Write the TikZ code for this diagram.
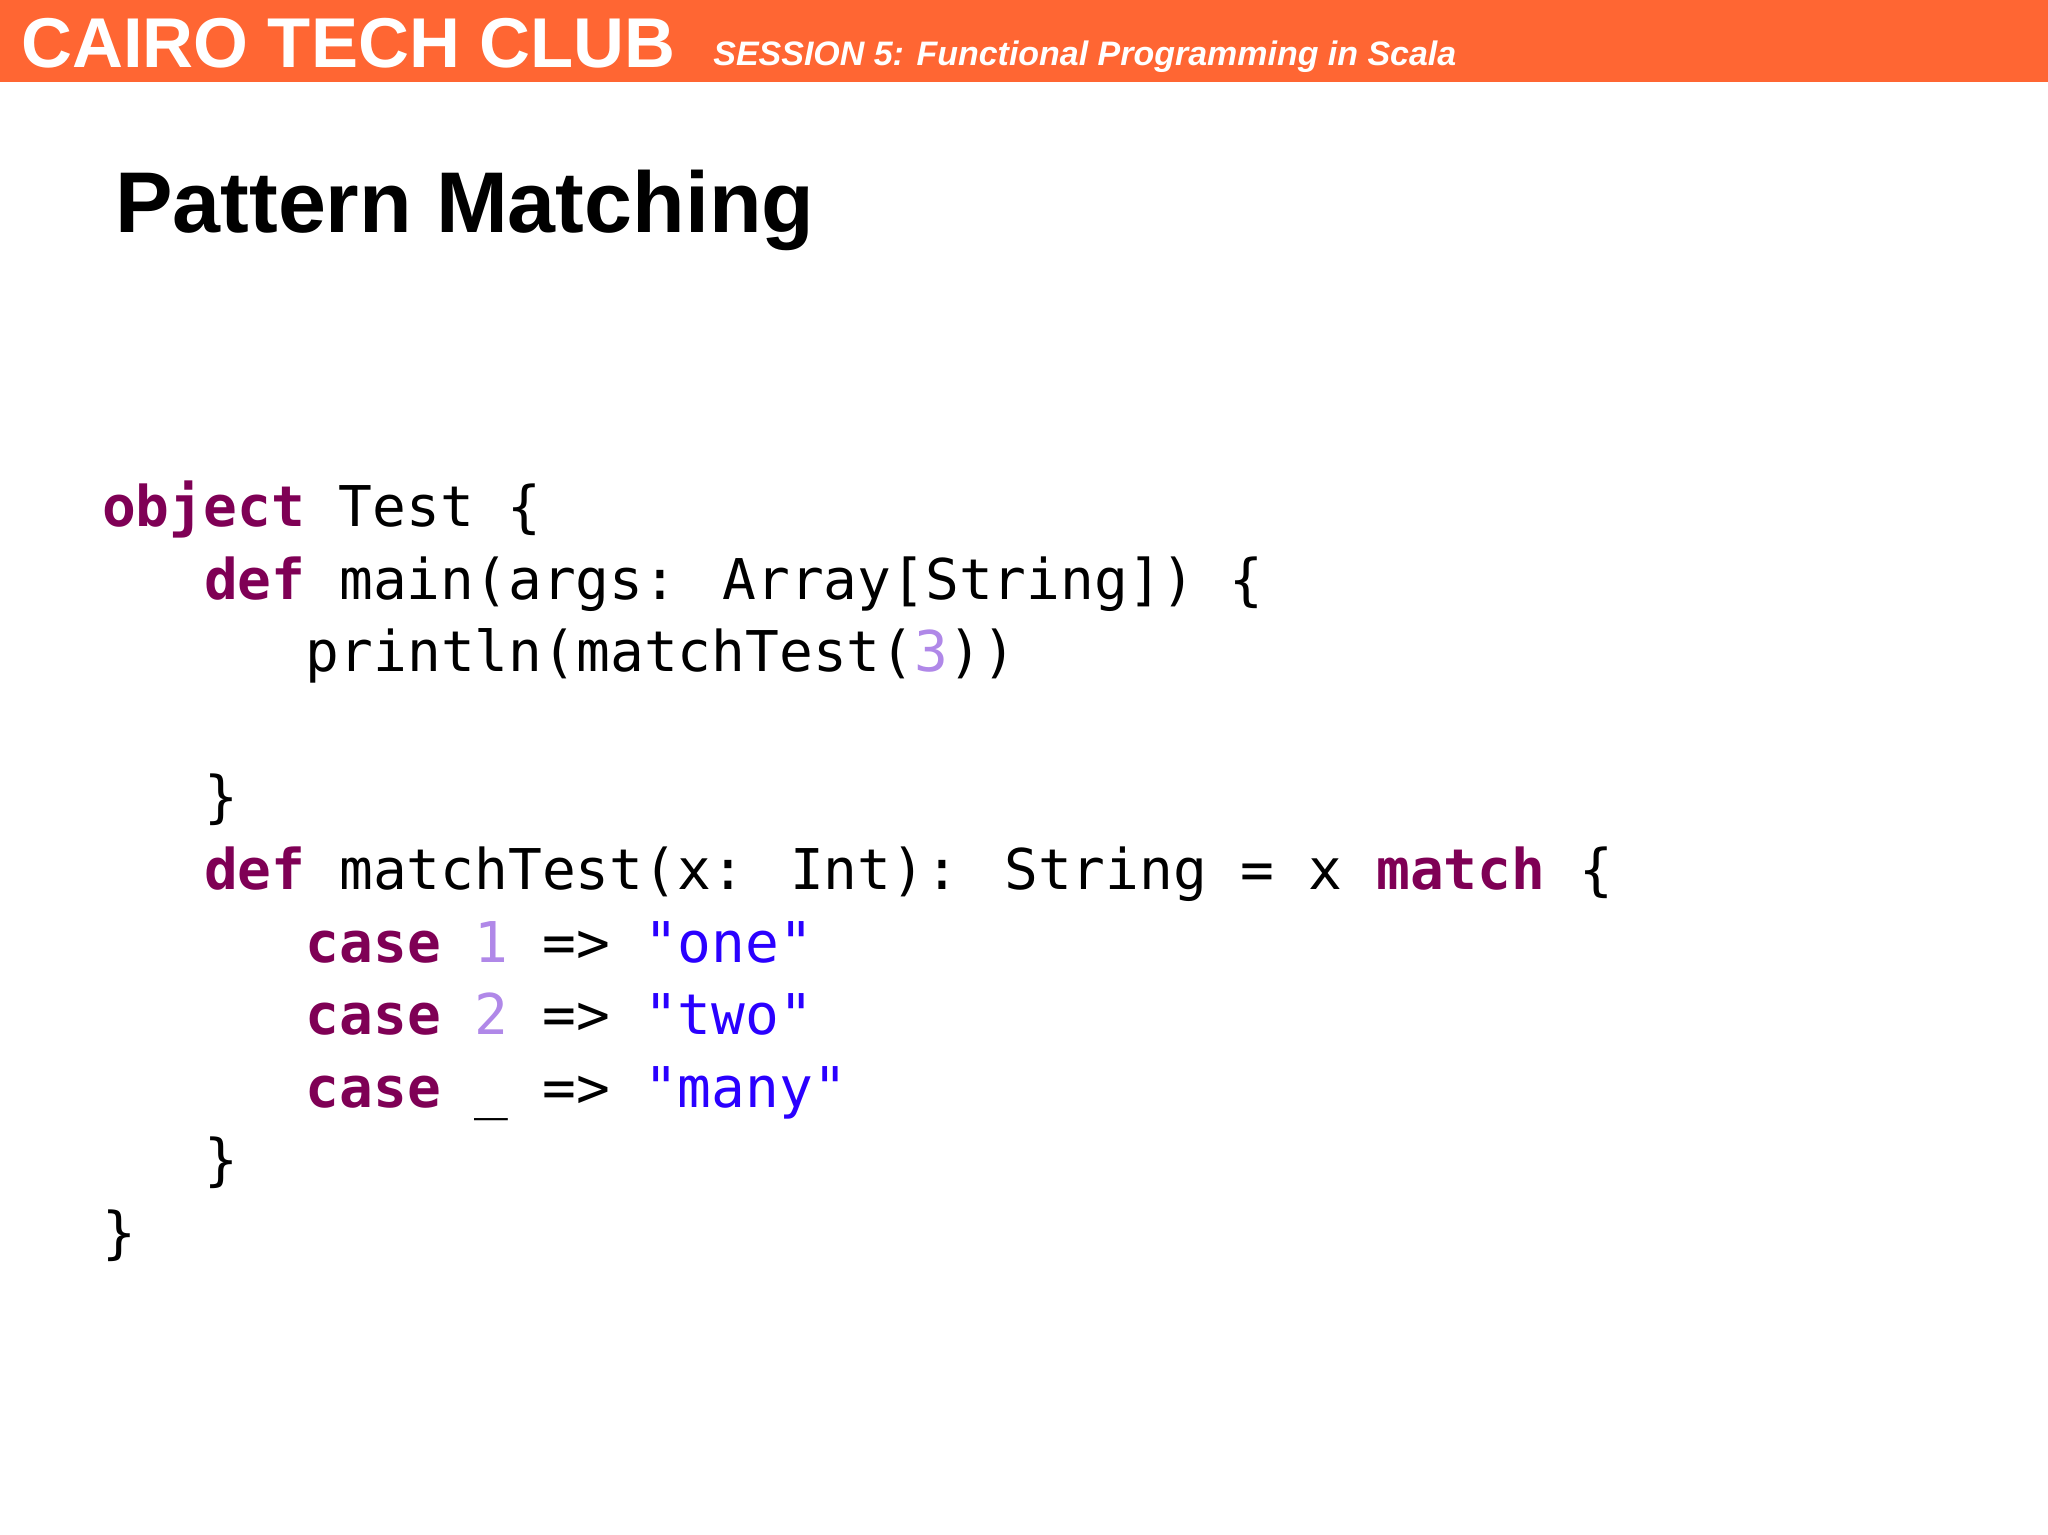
\documentclass[tikz,border=0pt]{standalone}
\usepackage{fontspec}
\setmainfont{Liberation Sans}
\newfontfamily\codefont{DejaVu Sans Mono}
\definecolor{hdr}{HTML}{FF6633}
\definecolor{kw}{HTML}{7F0055}
\definecolor{num}{HTML}{B088E8}
\definecolor{str}{HTML}{2A00FF}
\newcommand{\kw}[1]{\textcolor{kw}{\bfseries #1}}
\newcommand{\nm}[1]{\textcolor{num}{#1}}
\newcommand{\st}[1]{\textcolor{str}{#1}}
\begin{document}
\begin{tikzpicture}[x=1pt,y=-1pt,
  code/.style={anchor=base west,inner sep=0,font=\codefont\fontsize{43}{43}\selectfont}]
\useasboundingbox (0,0) rectangle (1568,1175);
\fill[hdr] (0,0) rectangle (1568,63);
\node[anchor=base west,inner sep=0,text=white,font=\bfseries\fontsize{54}{54}\selectfont] (club) at (16,52) {CAIRO TECH CLUB};
\node[anchor=base west,inner sep=0,text=white,font=\bfseries\itshape\fontsize{26}{26}\selectfont] (sess) at (546,50) {SESSION 5: Functional Programming in Scala};
\node[anchor=base west,inner sep=0,font=\bfseries\fontsize{66}{66}\selectfont] (title) at (88,178) {Pattern Matching};
\node[code] (l1) at (78,403) {\kw{object} Test \{};
\node[code] (l2) at (156,459) {\kw{def} main(args: Array[String]) \{};
\node[code] (l3) at (234,514) {println(matchTest(\nm{3}))};
\node[code] (l4) at (156,625) {\}};
\node[code] (l5) at (156,681) {\kw{def} matchTest(x: Int): String = x \kw{match} \{};
\node[code] (l6) at (234,737) {\kw{case} \nm{1} => \st{"one"}};
\node[code] (l7) at (234,792) {\kw{case} \nm{2} => \st{"two"}};
\node[code] (l8) at (234,848) {\kw{case} \_ => \st{"many"}};
\node[code] (l9) at (156,903) {\}};
\node[code] (l10) at (78,959) {\}};
\end{tikzpicture}
\end{document}
